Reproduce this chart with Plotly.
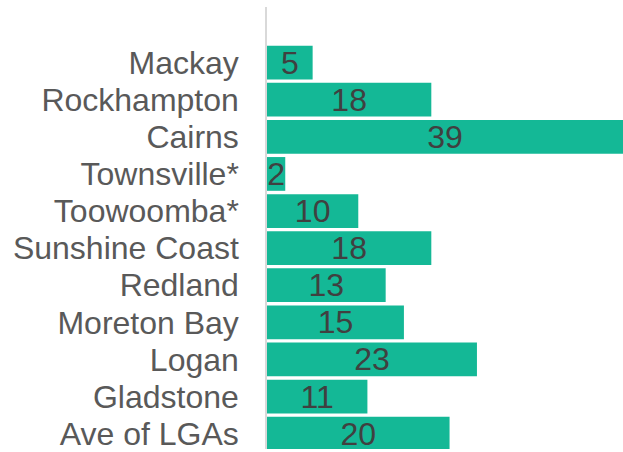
import plotly.graph_objects as go

categories = ["Mackay", "Rockhampton", "Cairns", "Townsville*", "Toowoomba*",
              "Sunshine Coast", "Redland", "Moreton Bay", "Logan", "Gladstone",
              "Ave of LGAs"]
values = [5, 18, 39, 2, 10, 18, 13, 15, 23, 11, 20]

fig = go.Figure(go.Bar(
    x=values,
    y=categories,
    orientation="h",
    marker=dict(color="#14B896", line=dict(width=0)),
    text=[str(v) for v in values],
    textposition="inside",
    insidetextanchor="middle",
    textangle=0,
    constraintext="none",
    textfont=dict(family="Liberation Sans, Arial, sans-serif", size=32, color="#404040"),
    cliponaxis=True,
))

fig.update_layout(
    width=623, height=452,
    margin=dict(l=267, r=0, t=7, b=0),
    paper_bgcolor="white", plot_bgcolor="white",
    bargap=0.09,
    showlegend=False,
    xaxis=dict(range=[0, 39], visible=False, fixedrange=True),
    yaxis=dict(
        type="category",
        categoryorder="array", categoryarray=categories,
        tickmode="array", tickvals=categories, ticktext=categories,
        range=[10.415, -1.5],
        showline=True, linecolor="#D9D9D9", linewidth=1.5,
        showgrid=False, zeroline=False, ticks="",
        ticklabelstandoff=20,
        tickfont=dict(family="Liberation Sans, Arial, sans-serif", size=32, color="#595959"),
    ),
)

fig.write_html(
    "out.html",
    config={"displayModeBar": False},
    post_script="document.body.style.margin='0';document.body.style.overflow='hidden';",
)
